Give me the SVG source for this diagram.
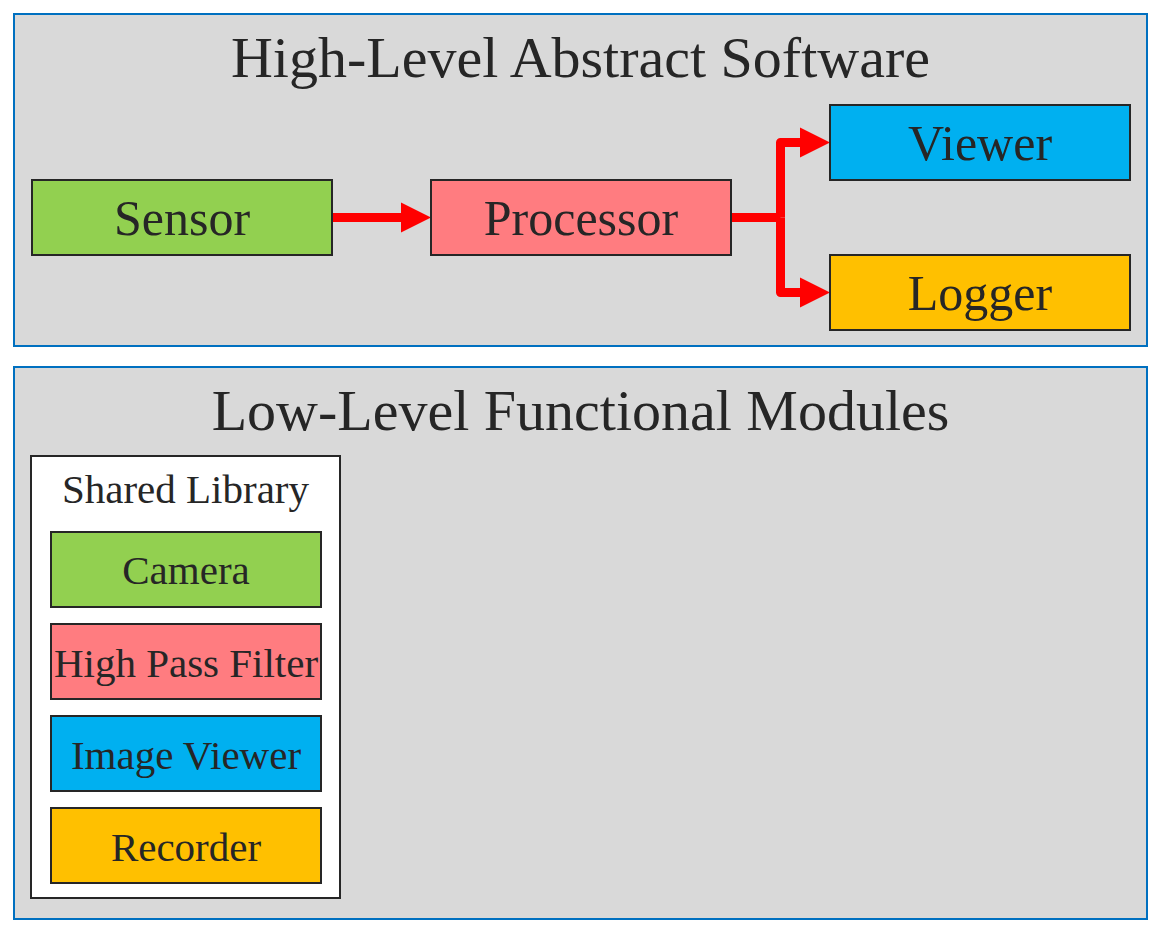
<svg xmlns="http://www.w3.org/2000/svg" width="1161" height="933" viewBox="0 0 1161 933">
<style>
.panel{fill:#D9D9D9;stroke:#0070C0;stroke-width:2}
.box{stroke:#262626;stroke-width:2}
text{font-family:"Liberation Serif","Times New Roman",serif;fill:#262626;text-anchor:middle}
.t1{font-size:58px}
.t2{font-size:50px}
.t3{font-size:41px}
.conn{fill:none;stroke:#FF0000;stroke-width:9;stroke-linejoin:round}
.head{fill:#FF0000}
</style>
<rect width="1161" height="933" fill="#FFFFFF"/>
<g id="panel-high">
<rect class="panel" x="14" y="14" width="1133" height="332"/>
<text class="t1" x="580.5" y="77">High-Level Abstract Software</text>
</g>
<g id="panel-low">
<rect class="panel" x="14" y="367" width="1133" height="552"/>
<text class="t1" x="580.5" y="430">Low-Level Functional Modules</text>
</g>
<g id="connectors">
<path class="conn" d="M332,217.5 H403"/>
<polygon class="head" points="401,202.5 431,217.5 401,232.5"/>
<path class="conn" d="M731,217.5 H780.5"/>
<path class="conn" d="M780.5,217.5 V142.5 H802"/>
<polygon class="head" points="800,127.5 830,142.5 800,157.5"/>
<path class="conn" d="M780.5,217.5 V292.5 H802"/>
<polygon class="head" points="800,277.5 830,292.5 800,307.5"/>
</g>
<g id="sensor">
<rect class="box" x="32" y="180" width="300" height="75" fill="#92D050"/>
<text class="t2" x="182" y="235">Sensor</text>
</g>
<g id="processor">
<rect class="box" x="431" y="180" width="300" height="75" fill="#FF7C80"/>
<text class="t2" x="581" y="235">Processor</text>
</g>
<g id="viewer">
<rect class="box" x="830" y="105" width="300" height="75" fill="#00B0F0"/>
<text class="t2" x="980" y="160">Viewer</text>
</g>
<g id="logger">
<rect class="box" x="830" y="255" width="300" height="75" fill="#FFC000"/>
<text class="t2" x="980" y="310">Logger</text>
</g>
<g id="shared-library">
<rect class="box" x="31" y="456" width="309" height="442" fill="#FFFFFF"/>
<text class="t3" x="185.5" y="503">Shared Library</text>
</g>
<g id="camera">
<rect class="box" x="51" y="532" width="270" height="75" fill="#92D050"/>
<text class="t3" x="186" y="584">Camera</text>
</g>
<g id="high-pass-filter">
<rect class="box" x="51" y="624" width="270" height="75" fill="#FF7C80"/>
<text class="t3" x="186" y="676.5">High Pass Filter</text>
</g>
<g id="image-viewer">
<rect class="box" x="51" y="716" width="270" height="75" fill="#00B0F0"/>
<text class="t3" x="186" y="768.5">Image Viewer</text>
</g>
<g id="recorder">
<rect class="box" x="51" y="808" width="270" height="75" fill="#FFC000"/>
<text class="t3" x="186" y="860.5">Recorder</text>
</g>
</svg>
